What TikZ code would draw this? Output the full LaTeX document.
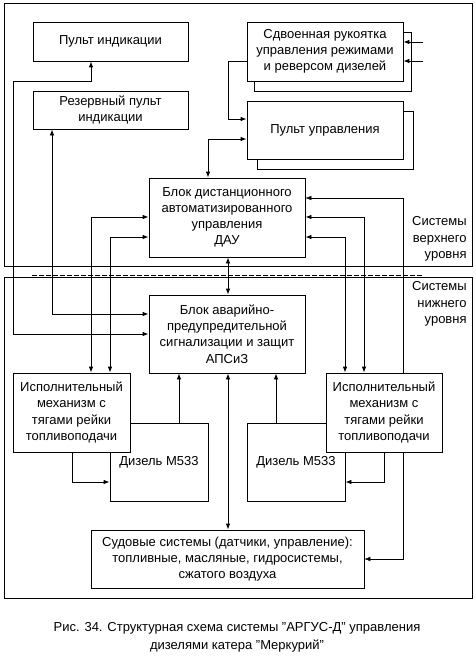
\documentclass[tikz,border=0pt]{standalone}
\usepackage{fontspec}
\setmainfont{Liberation Sans}
\usetikzlibrary{arrows.meta,backgrounds}
\begin{document}
\begin{tikzpicture}[x=1pt,y=-1pt,
 line width=0.8pt,
 box/.style={draw,fill=white,align=center,inner sep=0pt,font=\fontsize{13}{16.2}\selectfont},
 backbox/.style={draw,fill=white},
 lbl/.style={align=right,inner sep=0pt,font=\fontsize{13}{16.5}\selectfont},
 captext/.style={align=center,inner sep=0pt,font=\fontsize{13}{18}\selectfont},
 tip/.style={-{Latex[length=6pt,width=4.5pt]}},
 both/.style={{Latex[length=6pt,width=4.5pt]}-{Latex[length=6pt,width=4.5pt]}},
 frame/.style={draw},
]
\useasboundingbox (0,0) rectangle (474,669);

% frames
\draw[frame] (4,3) rectangle (472,266);
\draw[frame] (4,277) rectangle (472,598);
\draw[dash pattern=on 5pt off 2pt] (32,275) -- (422,275);

% labels
\node[lbl,anchor=east] (upl) at (467,239) {Системы\\верхнего\\уровня};
\node[lbl,anchor=east] (lowl) at (467,304) {Системы\\нижнего\\уровня};

% nodes
\node[box,minimum width=155pt,minimum height=39pt] (pi) at (110.5,41.5) {Пульт индикации};
\node[box,minimum width=155pt,minimum height=38pt] (rpi) at (110.5,110) {Резервный пульт\\индикации};
\draw[backbox] (254,32) rectangle (411,91);
\node[box,minimum width=156pt,minimum height=59pt] (sr) at (325,51.5) {Сдвоенная рукоятка\\управления режимами\\и реверсом дизелей};
\draw[backbox] (257,111) rectangle (413,169);
\node[box,minimum width=156pt,minimum height=58pt] (pu) at (325,130) {Пульт управления};
\node[box,minimum width=156pt,minimum height=79pt] (dau) at (227,217.5) {Блок дистанционного\\автоматизированного\\управления\\ДАУ};
\node[box,minimum width=156pt,minimum height=78pt] (aps) at (227,334) {Блок аварийно-\\предупредительной\\сигнализации и защит\\АПСиЗ};
\node[box,minimum width=98pt,minimum height=78pt] (dl) at (159,462) {Дизель М533};
\node[box,minimum width=98pt,minimum height=78pt] (dr) at (296,462) {Дизель М533};
\node[box,minimum width=117pt,minimum height=79pt] (isl) at (71.5,412.5) {Исполнительный\\механизм с\\тягами рейки\\топливоподачи};
\node[box,minimum width=116pt,minimum height=79pt] (isr) at (384,412.5) {Исполнительный\\механизм с\\тягами рейки\\топливоподачи};
\node[box,minimum width=273pt,minimum height=58pt] (sud) at (227.5,559) {Судовые системы (датчики, управление):\\топливные, масляные, гидросистемы,\\сжатого воздуха};

% caption
\node[captext] (caption) at (237,637) {Рис. 34. Структурная схема системы "АРГУС-Д" управления\\дизелями катера "Меркурий"};

% connectors
\begin{scope}[on background layer]
\draw[both] (dau.east |- 0,198) -- (403,198) -- (403,559) -- (sud.east |- 0,559);
\end{scope}

\coordinate (in1) at (423,42);
\coordinate (in2) at (423,61);
\draw[tip] (in1) -- (sr.east |- in1);
\draw[tip] (in2) -- (sr.east |- in2);
\draw[tip] (sr.west |- 0,61) -- (228,61) -- (228,119) -- (pu.west |- 0,119);
\draw[both] (pu.west |- 0,139) -- (208,139) -- (dau.north -| 208,0);

\draw[both] (aps.west |- 0,334) -- (13,334) -- (13,81) -- (91,81) -- (pi.south -| 91,0);
\draw[both] (aps.west |- 0,314) -- (52,314) -- (rpi.south -| 52,0);
\draw[both] (dau.west |- 0,217) -- (91,217) -- (isl.north -| 91,0);
\draw[both] (dau.west |- 0,237) -- (110,237) -- (isl.north -| 110,0);
\draw[both] (dau.east |- 0,217) -- (364,217) -- (isr.north -| 364,0);
\draw[both] (dau.east |- 0,237) -- (345,237) -- (isr.north -| 345,0);
\draw[both] (dau.south -| 228,0) -- (aps.north -| 228,0);
\draw[both] (aps.south -| 228,0) -- (sud.north -| 228,0);
\draw[tip] (dl.north -| 179,0) -- (aps.south -| 179,0);
\draw[tip] (dr.north -| 276,0) -- (aps.south -| 276,0);
\draw[tip] (isl.south -| 72,0) -- (72,482) -- (dl.west |- 0,482);
\draw[tip] (isr.south -| 384,0) -- (384,482) -- (dr.east |- 0,482);
\end{tikzpicture}
\end{document}
